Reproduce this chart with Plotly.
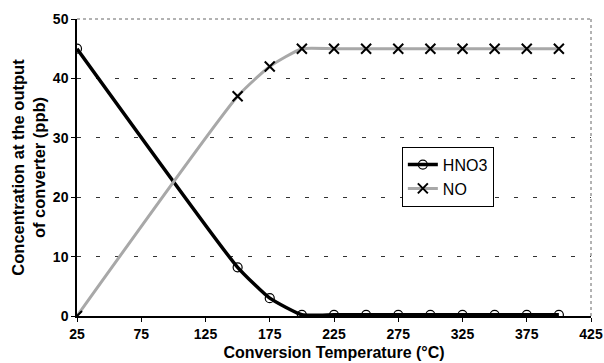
import plotly.graph_objects as go

temps = [25, 150, 175, 200, 225, 250, 275, 300, 325, 350, 375, 400]
hno3 = [45, 8.2, 3.0, 0.2, 0.2, 0.2, 0.2, 0.2, 0.2, 0.2, 0.2, 0.2]
no = [0, 37, 42, 45, 45, 45, 45, 45, 45, 45, 45, 45]
x_ticks = [25, 75, 125, 175, 225, 275, 325, 375, 425]
y_ticks = [0, 10, 20, 30, 40, 50]

fig = go.Figure()
fig.add_trace(go.Scatter(
    x=temps, y=hno3, name="HNO3", mode="lines+markers",
    line=dict(color="black", width=3.5, shape="spline", smoothing=0.45),
    marker=dict(symbol="circle-open", size=9, color="black", line=dict(width=1.2)),
))
fig.add_trace(go.Scatter(
    x=temps, y=no, name="NO", mode="lines+markers",
    line=dict(color="#a8a8a8", width=3, shape="spline", smoothing=0.5),
    marker=dict(symbol="x-thin", size=10, color="black", line=dict(width=2, color="black")),
))

font = "Liberation Sans, Arial, sans-serif"
fig.update_layout(
    width=604, height=363,
    margin=dict(l=77, r=13, t=19, b=47),
    paper_bgcolor="white", plot_bgcolor="white",
    font=dict(family=font, color="black"),
    showlegend=True,
    legend=dict(x=0.632, y=0.57, xanchor="left", yanchor="top",
                bordercolor="black", borderwidth=1, bgcolor="white",
                font=dict(size=16, family=font), tracegroupgap=0,
                itemwidth=30),
    xaxis=dict(range=[25, 425], tickvals=x_ticks,
               ticktext=[str(t) for t in x_ticks], automargin=False,
               showgrid=False, zeroline=False, showline=True, linecolor="black", linewidth=1.5,
               ticks="outside", ticklen=4, tickcolor="black",
               tickfont=dict(size=14, family=font, weight="bold"),
               title=dict(text="<b>Conversion Temperature (°C)</b>", font=dict(size=16), standoff=6)),
    yaxis=dict(range=[0, 50], tickvals=y_ticks, automargin=False,
               showgrid=True, gridcolor="#333", griddash="4px,15px", gridwidth=1,
               zeroline=False, showline=True, linecolor="black", linewidth=1.5,
               ticks="outside", ticklen=4, tickcolor="black",
               tickfont=dict(size=14, family=font, weight="bold"),
               title=dict(text="<b>Concentration at the output<br>of converter (ppb)</b>",
                          font=dict(size=16.5), standoff=3)),
)
fig.add_shape(type="line", xref="paper", yref="paper", x0=0, x1=1, y0=1, y1=1,
              line=dict(color="#666", width=1, dash="dot"))
fig.add_shape(type="line", xref="paper", yref="paper", x0=1, x1=1, y0=0, y1=1,
              line=dict(color="#666", width=1, dash="dot"))
fig.write_html("out.html", config={"displayModeBar": False})

with open("out.html", "r", encoding="utf-8") as f:
    html = f.read()
html = html.replace("<head>", "<head><style>html,body{margin:0;padding:0;overflow:hidden;}</style>", 1)
with open("out.html", "w", encoding="utf-8") as f:
    f.write(html)
